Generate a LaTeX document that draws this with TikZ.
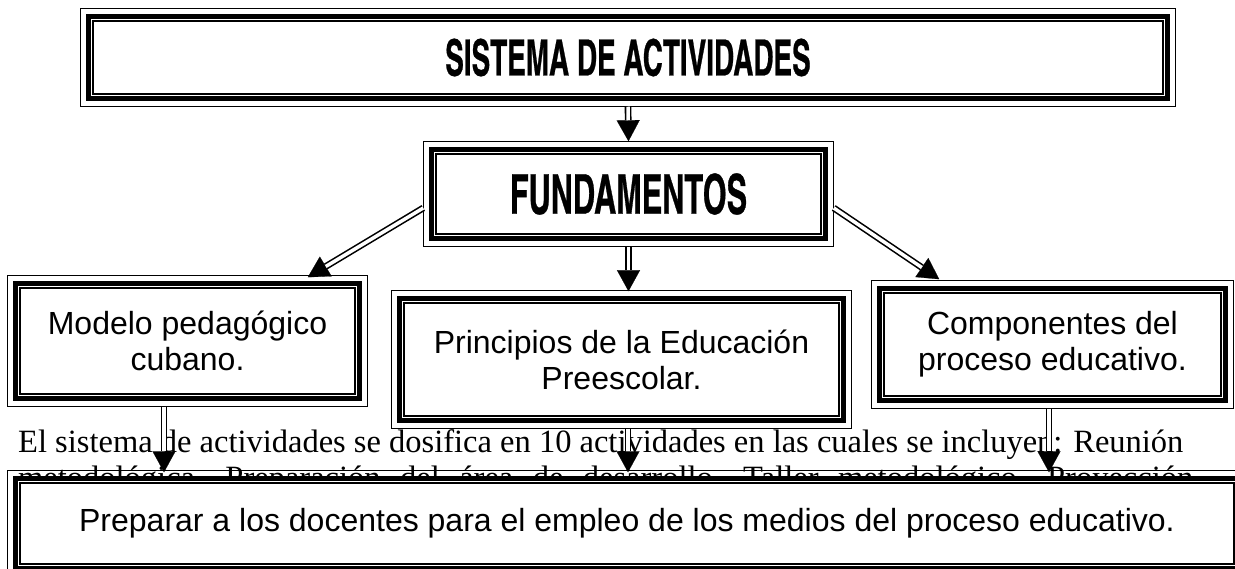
\documentclass[tikz,border=0pt]{standalone}
\usepackage{fontspec}
\setmainfont{Liberation Serif}
\setsansfont{Liberation Sans}
\newfontfamily\rotulo[FakeStretch=0.68,FakeBold=0.5]{texgyreheroscn-bold.otf}
\usetikzlibrary{arrows.meta,calc}

\tikzset{
  marco/.style={draw, line width=4.5pt, fill=white, inner sep=0pt, align=center,
    font=\sffamily\fontsize{32}{36}\selectfont},
  parrafo/.style={anchor=base west, inner sep=0pt, font=\fontsize{32.5}{35}\selectfont},
  conector/.style={double, double distance=3.5pt, line width=1.6pt, shorten >=21pt},
  punta/.style={line width=0.2pt, -{Triangle[length=21pt,width=23pt]}},
}
% marco triple: linea fina exterior, gruesa, fina interior
\newcommand\lineas[1]{%
  \draw[line width=1.3pt] ([shift={(-6pt,6pt)}]#1.north west) rectangle ([shift={(6pt,-6pt)}]#1.south east);
  \draw[line width=2pt] ([shift={(6.5pt,-6.5pt)}]#1.north west) rectangle ([shift={(-6.5pt,6.5pt)}]#1.south east);}
\newcommand\flecha[2]{\draw[punta] #1 -- #2; \draw[conector] #1 -- #2;}

\begin{document}
\begin{tikzpicture}[x=1pt,y=1pt]
\useasboundingbox (0,0) rectangle (1235,-569);
\clip (0,0) rectangle (1235,-569);
% texto del documento que queda debajo
\node[parrafo] (cuerpo1) at (18,-453) {El sistema de actividades se dosifica en 10 actividades en las cuales se incluyen: Reuni\'on};
\node[parrafo] (cuerpo2) at (18,-488) {\makebox[1175pt][s]{metodol\'ogica, Preparaci\'on del \'area de desarrollo, Taller metodol\'ogico, Proyecci\'on}};
% cuadros
\node[marco, minimum width=1079pt, minimum height=82pt] (titulo) at (628,-57.5) {\rotulo\fontsize{50}{54}\selectfont\raisebox{-4pt}{SISTEMA DE ACTIVIDADES}};
\lineas{titulo}
\node[marco, minimum width=394pt, minimum height=89pt] (fund) at (628.5,-194) {\rotulo\fontsize{55}{59}\selectfont\raisebox{-2pt}{FUNDAMENTOS}};
\lineas{fund}
\node[marco, minimum width=344pt, minimum height=115pt] (modelo) at (187.5,-341) {Modelo pedag\'ogico\\cubano.};
\lineas{modelo}
\node[marco, minimum width=444pt, minimum height=122pt] (prin) at (621.5,-359.5) {Principios de la Educaci\'on\\Preescolar.};
\lineas{prin}
\node[marco, minimum width=346pt, minimum height=112pt] (comp) at (1052.5,-344.5) {Componentes del\\proceso educativo.};
\lineas{comp}
\node[marco, minimum width=1223pt, minimum height=90pt] (final) at (627,-523.5) {\fontsize{32}{36}\selectfont Preparar a los docentes para el empleo de los medios del proceso educativo.};
\lineas{final}
% flechas
\flecha{([yshift=-6pt]titulo.south)}{([yshift=6pt]fund.north)}
\flecha{([xshift=-6pt,yshift=-14pt]fund.west)}{([xshift=-54pt,yshift=4pt]modelo.north east)}
\flecha{([xshift=6pt,yshift=-14pt]fund.east)}{([xshift=62pt,yshift=7pt]comp.north west)}
\flecha{([yshift=-6pt]fund.south)}{($(fund.south |- prin.north)+(0,5)$)}
\flecha{($(modelo.south)+(-23.5,-6)$)}{($(modelo.south |- final.north)+(-23.5,4)$)}
\flecha{($(prin.south)+(6.5,-6)$)}{($(prin.south |- final.north)+(6.5,4)$)}
\flecha{($(comp.south)+(-3.5,-6)$)}{($(comp.south |- final.north)+(-3.5,4)$)}
\end{tikzpicture}
\end{document}
